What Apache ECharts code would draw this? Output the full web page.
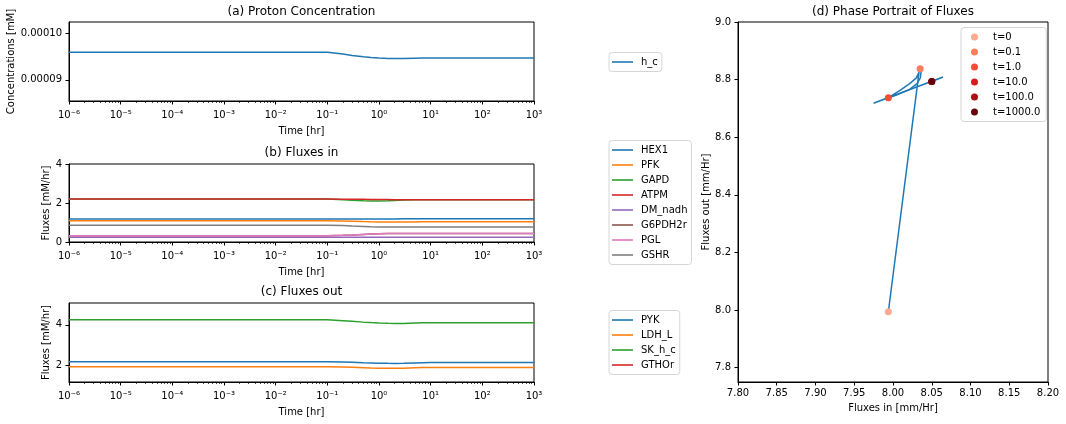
<!DOCTYPE html>
<html>
<head>
<meta charset="utf-8">
<script src="https://cdn.jsdelivr.net/npm/echarts@6/dist/echarts.min.js"></script>
<style>
  html, body { margin: 0; padding: 0; background: #fff; }
  #main { width: 1066px; height: 424px; }
</style>
</head>
<body>
<div id="main"></div>
<script>
// time points of the simulation [hr]
const times = [1e-6, 1e-5, 1e-4, 1e-3, 1e-2, 0.1, 0.2, 0.3, 0.5, 0.7, 1, 1.5, 2, 3, 5, 7, 10, 100, 1000];

// (a) proton concentration [mM]
const hC = [9.598e-5, 9.598e-5, 9.598e-5, 9.598e-5, 9.598e-5, 9.598e-5, 9.56e-5, 9.53e-5, 9.50e-5, 9.485e-5,
  9.475e-5, 9.465e-5, 9.46e-5, 9.46e-5, 9.468e-5, 9.474e-5, 9.474e-5, 9.474e-5, 9.474e-5];

// (b) fluxes in [mM/hr]
const fluxInNames = ['HEX1', 'PFK', 'GAPD', 'ATPM', 'DM_nadh', 'G6PDH2r', 'PGL', 'GSHR'];
const hex1 = [1.18, 1.18, 1.18, 1.18, 1.18, 1.18, 1.18, 1.18, 1.18, 1.18, 1.182, 1.184, 1.185, 1.186, 1.186, 1.186, 1.186, 1.186, 1.186];
const pfk = [1.09, 1.09, 1.09, 1.09, 1.09, 1.09, 1.08, 1.065, 1.045, 1.035, 1.027, 1.024, 1.024, 1.027, 1.032, 1.034, 1.035, 1.035, 1.035];
const gapd = [2.20, 2.20, 2.20, 2.20, 2.20, 2.20, 2.17, 2.14, 2.11, 2.10, 2.10, 2.11, 2.125, 2.15, 2.163, 2.165, 2.165, 2.165, 2.165];
const atpm = [2.20, 2.20, 2.20, 2.20, 2.20, 2.20, 2.197, 2.193, 2.188, 2.184, 2.18, 2.175, 2.17, 2.166, 2.165, 2.165, 2.165, 2.165, 2.165];
const dmNadh = [0.25, 0.25, 0.25, 0.25, 0.25, 0.25, 0.25, 0.25, 0.25, 0.25, 0.25, 0.25, 0.25, 0.25, 0.25, 0.25, 0.25, 0.25, 0.25];
const g6pdh2r = [0.32, 0.32, 0.32, 0.32, 0.32, 0.32, 0.34, 0.36, 0.39, 0.41, 0.425, 0.435, 0.44, 0.44, 0.44, 0.44, 0.44, 0.44, 0.44];
const pgl = [0.32, 0.32, 0.32, 0.32, 0.32, 0.32, 0.34, 0.36, 0.39, 0.41, 0.425, 0.435, 0.44, 0.44, 0.44, 0.44, 0.44, 0.44, 0.44];
const gshr = [0.86, 0.86, 0.86, 0.86, 0.86, 0.86, 0.84, 0.82, 0.80, 0.785, 0.775, 0.77, 0.768, 0.768, 0.77, 0.77, 0.77, 0.77, 0.77];

// (c) fluxes out [mM/hr]
const fluxOutNames = ['PYK', 'LDH_L', 'SK_h_c', 'GTHOr'];
const pyk = [2.19, 2.19, 2.19, 2.19, 2.19, 2.19, 2.18, 2.165, 2.14, 2.13, 2.12, 2.112, 2.11, 2.115, 2.135, 2.145, 2.15, 2.15, 2.15];
const ldhL = [1.95, 1.95, 1.95, 1.95, 1.95, 1.95, 1.94, 1.925, 1.90, 1.885, 1.875, 1.87, 1.87, 1.875, 1.895, 1.905, 1.91, 1.91, 1.91];
const skHc = [4.246, 4.246, 4.246, 4.246, 4.246, 4.246, 4.20, 4.17, 4.13, 4.11, 4.09, 4.075, 4.068, 4.066, 4.085, 4.095, 4.10, 4.10, 4.10];
const gthor = [];

// (d) phase portrait: trajectory in two pieces, and the marked time points
const trajIn = [7.994, 8.0336, 8.0302, 8.0215, 8.0086, 7.9957, 7.975, 8.0645, 8.050];
const trajOut = [7.994, 8.826, 8.806, 8.786, 8.762, 8.740, 8.718, 8.809, 8.793];
const traj2In = [8.0362, 8.0353, 8.0310, 8.0215, 8.0043, 7.996];
const traj2Out = [8.8273, 8.806, 8.786, 8.766, 8.746, 8.739];
const snapLabels = ['t=0', 't=0.1', 't=1.0', 't=10.0', 't=100.0', 't=1000.0'];
const snapIn = [7.994, 8.035, 7.994, 8.050, 8.050, 8.050];
const snapOut = [7.994, 8.838, 8.737, 8.793, 8.793, 8.793];
const snapColors = ['#fcab8e', '#fb7d5d', '#f34c37', '#d42021', '#aa1016', '#67000d'];

// tick labels
const decades = [-6, -5, -4, -3, -2, -1, 0, 1, 2];
const hcTicks = [9e-5, 1e-4];
const outTicks = [2, 4];
const phaseYTicks = [7.8, 8.0, 8.2, 8.4, 8.6, 8.8, 9.0];

const tab10 = ['#1f77b4', '#ff7f0e', '#2ca02c', '#d62728', '#9467bd', '#8c564b', '#e377c2', '#7f7f7f'];
const font = 'DejaVu Sans';
const black = '#000';

const chart = echarts.init(document.getElementById('main'));

const sup = {'-': '⁻', '0': '⁰', '1': '¹', '2': '²', '3': '³', '4': '⁴', '5': '⁵', '6': '⁶', '7': '⁷', '8': '⁸', '9': '⁹'};
function powLabel(v) {
  const e = Math.round(Math.log10(v));
  return '10' + String(e).split('').map(c => sup[c]).join('');
}

// minor ticks at 2..9 x 10^n, in log10 units
const minorTicks = [];
decades.forEach(n => {
  for (let k = 2; k <= 9; k++) minorTicks.push(n + Math.log10(k));
});

const gridPos = [
  {left: 69, top: 22, width: 465, height: 79},
  {left: 69, top: 164, width: 465, height: 78},
  {left: 69, top: 303, width: 465, height: 79},
  {left: 738, top: 22, width: 310, height: 360}
];

const lineAxis = {show: true, onZero: false, lineStyle: {color: black, width: 1}};
const tickStyle = {show: true, length: 3.5, lineStyle: {color: black, width: 1}};
const labelStyle = {color: black, fontFamily: font, fontSize: 10};
const nameStyle = {color: black, fontFamily: font, fontSize: 10};

function timeAxis(g) {
  return {
    type: 'log', logBase: 10, gridIndex: g, min: 1e-6, max: 1000, position: 'bottom',
    name: 'Time [hr]', nameLocation: 'middle', nameGap: 25, nameTextStyle: nameStyle,
    axisLine: lineAxis, axisTick: tickStyle,
    axisLabel: Object.assign({formatter: powLabel, margin: 9}, labelStyle),
    splitLine: {show: false}
  };
}

// overlay axis that only carries the minor ticks of the log time axis
function minorAxis(g) {
  return {
    type: 'value', gridIndex: g, min: -6, max: 3, position: 'bottom',
    axisLine: {show: true, onZero: false, lineStyle: {color: black, width: 1, opacity: 0}},
    axisLabel: {show: true, customValues: minorTicks, formatter: () => ''},
    splitLine: {show: false},
    axisTick: {show: true, length: 2, customValues: minorTicks, lineStyle: {color: black, width: 0.7}}
  };
}

function timeSeries(name, vals, color, g) {
  return {
    name: name, type: 'line', xAxisIndex: g, yAxisIndex: g, symbol: 'none',
    lineStyle: {color: color, width: 1.5}, itemStyle: {color: color},
    data: vals.map((v, i) => [times[i], v])
  };
}

function legendBox(names, left, top) {
  return {
    data: names, orient: 'vertical', left: left, top: top,
    padding: [4.5, 4, 4.5, 3], itemGap: 5, itemWidth: 21, itemHeight: 1.6, icon: 'rect',
    borderColor: '#d6d6d6', borderWidth: 1, borderRadius: 3, backgroundColor: 'rgba(255,255,255,0.8)',
    textStyle: {color: black, fontFamily: font, fontSize: 10, lineHeight: 10, padding: [0, 0, 0, 3]}
  };
}

const inData = [hex1, pfk, gapd, atpm, dmNadh, g6pdh2r, pgl, gshr];
const outData = [pyk, ldhL, skHc, gthor];

const series = [timeSeries('h_c', hC, tab10[0], 0)];
fluxInNames.forEach((n, i) => series.push(timeSeries(n, inData[i], tab10[i], 1)));
fluxOutNames.forEach((n, i) => series.push(timeSeries(n, outData[i], tab10[i], 2)));

[[trajIn, trajOut], [traj2In, traj2Out]].forEach(([xs, ys], k) => {
  series.push({
    name: 'trajectory' + k, type: 'line', xAxisIndex: 3, yAxisIndex: 3, symbol: 'none',
    lineStyle: {color: tab10[0], width: 1.5},
    data: xs.map((x, i) => [x, ys[i]])
  });
});
snapLabels.forEach((n, i) => {
  series.push({
    name: n, type: 'scatter', xAxisIndex: 3, yAxisIndex: 3, symbol: 'circle', symbolSize: 7, z: 3,
    itemStyle: {color: snapColors[i], opacity: 1},
    data: [[snapIn[i], snapOut[i]]]
  });
});

const legD = legendBox(snapLabels, 961, 27.5);
legD.icon = 'circle';
legD.itemWidth = 7;
legD.itemHeight = 7;
legD.itemGap = 5;
legD.padding = [4.5, 6, 4.5, 10];
legD.textStyle = {color: black, fontFamily: font, fontSize: 10, lineHeight: 10, padding: [0, 0, 0, 10]};

function titleAt(text, cx, cy) {
  return {text: text, left: cx, top: cy - 7, textAlign: 'center', padding: 0,
    textStyle: {color: black, fontFamily: font, fontSize: 12, fontWeight: 'normal'}};
}

const option = {
  animation: false,
  backgroundColor: '#fff',
  textStyle: {fontFamily: font},
  title: [
    titleAt('(a) Proton Concentration', 301.5, 13),
    titleAt('(b) Fluxes in', 301.5, 154),
    titleAt('(c) Fluxes out', 301.5, 293),
    titleAt('(d) Phase Portrait of Fluxes', 893, 13)
  ],
  legend: [
    legendBox(['h_c'], 609, 52.5),
    legendBox(fluxInNames, 609, 140.5),
    legendBox(fluxOutNames, 609, 310.5),
    legD
  ],
  grid: gridPos.map(p => Object.assign({show: true, borderColor: black, borderWidth: 1, containLabel: false}, p)),
  xAxis: [
    timeAxis(0), timeAxis(1), timeAxis(2),
    {
      type: 'value', gridIndex: 3, min: 7.8, max: 8.2, interval: 0.05, position: 'bottom',
      name: 'Fluxes in [mm/Hr]', nameLocation: 'middle', nameGap: 21, nameTextStyle: nameStyle,
      axisLine: lineAxis, axisTick: tickStyle,
      axisLabel: Object.assign({formatter: v => v.toFixed(2), margin: 6}, labelStyle),
      splitLine: {show: false}
    },
    minorAxis(0), minorAxis(1), minorAxis(2)
  ],
  yAxis: [
    {
      type: 'value', gridIndex: 0, min: 8.54e-5, max: 1.0255e-4,
      name: 'Concentrations [mM]', nameLocation: 'middle', nameGap: 51, nameTextStyle: nameStyle,
      axisLine: lineAxis,
      axisTick: Object.assign({customValues: hcTicks}, tickStyle),
      axisLabel: Object.assign({customValues: hcTicks, formatter: v => v.toFixed(5), margin: 7}, labelStyle),
      splitLine: {show: false}
    },
    {
      type: 'value', gridIndex: 1, min: 0, max: 4, interval: 2,
      name: 'Fluxes [mM/hr]', nameLocation: 'middle', nameGap: 17, nameTextStyle: nameStyle,
      axisLine: lineAxis, axisTick: tickStyle,
      axisLabel: Object.assign({margin: 7}, labelStyle),
      splitLine: {show: false}
    },
    {
      type: 'value', gridIndex: 2, min: 1.2, max: 5.066,
      name: 'Fluxes [mM/hr]', nameLocation: 'middle', nameGap: 17, nameTextStyle: nameStyle,
      axisLine: lineAxis,
      axisTick: Object.assign({customValues: outTicks}, tickStyle),
      axisLabel: Object.assign({customValues: outTicks, margin: 7}, labelStyle),
      splitLine: {show: false}
    },
    {
      type: 'value', gridIndex: 3, min: 7.75, max: 9.0,
      name: 'Fluxes out [mm/Hr]', nameLocation: 'middle', nameGap: 27, nameTextStyle: nameStyle,
      axisLine: lineAxis,
      axisTick: Object.assign({customValues: phaseYTicks}, tickStyle),
      axisLabel: Object.assign({customValues: phaseYTicks, formatter: v => v.toFixed(1), margin: 7}, labelStyle),
      splitLine: {show: false}
    }
  ],
  series: series
};

chart.setOption(option);
</script>
</body>
</html>
